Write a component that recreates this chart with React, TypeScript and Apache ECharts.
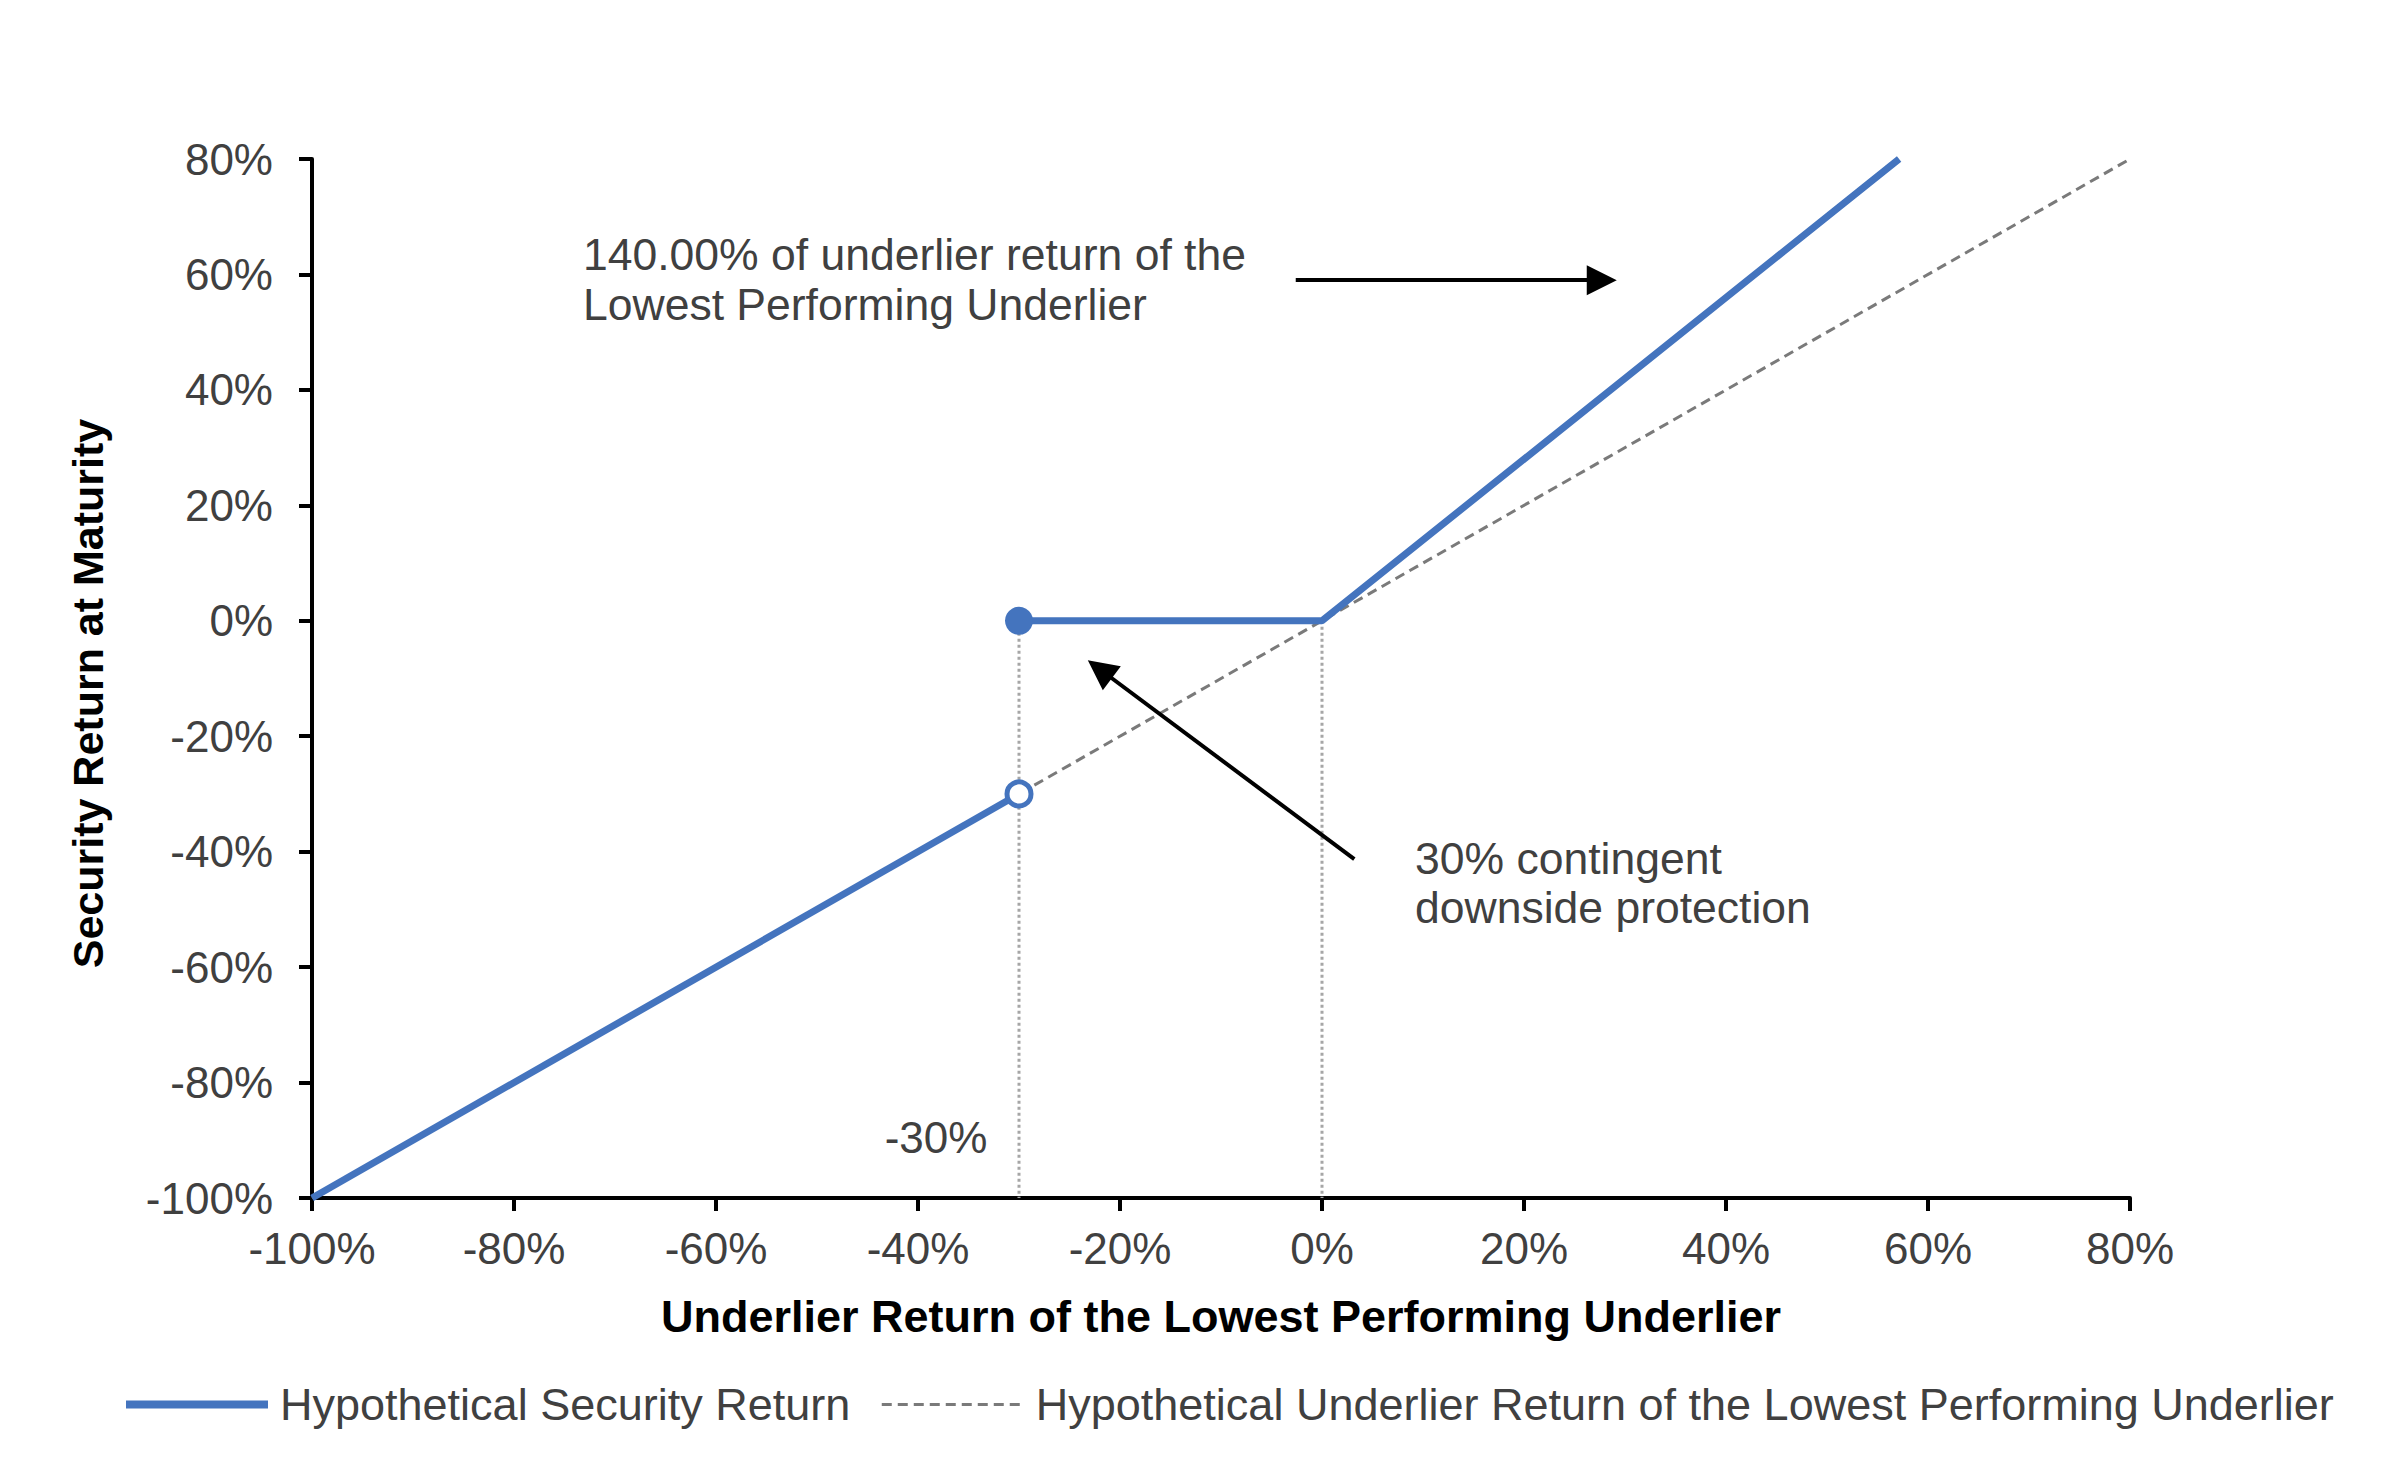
import React, { useEffect, useRef } from "react";
import * as echarts from "echarts";

// ---- data ----
const axisMin = -100;
const axisMax = 80;
const axisStep = 20;

const belowBarrierX = [-100, -30];
const belowBarrierY = [-100, -30];
const aboveBarrierX = [-30, 0, 57.14];
const aboveBarrierY = [0, 0, 80];
const underlierX = [-100, 80];
const underlierY = [-100, 80];
const barrierX = [-30];
const protectedY = [0];
const breachedY = [-30];
const guideX = [-30, 0];
const guideTopY = [0, 0];
const guideBottomY = [-100, -100];
const upsideArrowFrom = [-2.6, 59];
const upsideArrowTo = [27.7, 59];
const barrierArrowFrom = [3.2, -41.3];
const barrierArrowTo = [-22.0, -8.4];

const securityName = "Hypothetical Security Return";
const underlierName = "Hypothetical Underlier Return of the Lowest Performing Underlier";
const xTitle = "Underlier Return of the Lowest Performing Underlier";
const yTitle = "Security Return at Maturity";
const upsideNote = "140.00% of underlier return of the\nLowest Performing Underlier";
const barrierNote = "30% contingent\ndownside protection";
const barrierLabel = "-30%";

const BLUE = "#4474BE";
const FONT = "'Liberation Sans', Arial, sans-serif";

const pairs = (xs: number[], ys: number[]) => xs.map((x, i) => [x, ys[i]]);

export default function App() {
  const ref = useRef<HTMLDivElement>(null);
  useEffect(() => {
    if (!ref.current) return;
    const chart = echarts.init(ref.current, undefined, { renderer: "svg" });
    const axisCommon = {
      type: "value" as const,
      min: axisMin,
      max: axisMax,
      interval: axisStep,
      splitLine: { show: false },
      axisLine: { show: true, onZero: false, lineStyle: { color: "#000", width: 4 } },
      axisTick: { show: true, length: 13, lineStyle: { color: "#000", width: 4 } },
      axisLabel: {
        formatter: (v: number) => `${v}%`,
        color: "#404040",
        fontSize: 44,
        fontFamily: FONT,
      },
      nameLocation: "middle" as const,
      nameTextStyle: { color: "#000", fontWeight: "bold" as const, fontFamily: FONT },
    };
    const guideSeries = guideX.map((gx, i) => ({
      type: "line",
      name: `guide${i}`,
      data: [
        [gx, guideTopY[i]],
        [gx, guideBottomY[i]],
      ],
      symbol: "none",
      lineStyle: { color: "#a6a6a6", width: 3, type: [3, 3] },
      z: 1,
      silent: true,
    }));
    chart.setOption({
      animation: false,
      backgroundColor: "#fff",
      grid: { left: 312, right: 270, top: 159, bottom: 270 },
      xAxis: {
        ...axisCommon,
        axisLabel: { ...axisCommon.axisLabel, margin: 28 },
        name: xTitle,
        nameGap: 96,
        nameTextStyle: { ...axisCommon.nameTextStyle, fontSize: 45 },
      },
      yAxis: {
        ...axisCommon,
        axisLabel: { ...axisCommon.axisLabel, margin: 39 },
        name: yTitle,
        nameGap: 203,
        nameTextStyle: { ...axisCommon.nameTextStyle, fontSize: 43, padding: [0, 30, 0, 0] },
      },
      legend: {
        left: 117,
        top: 1377,
        itemWidth: 142,
        itemHeight: 10,
        itemGap: 30,
        textStyle: { fontSize: 45, color: "#404040", fontFamily: FONT, padding: [0, 0, 0, 7] },
        data: [
          { name: securityName, lineStyle: { width: 8 }, itemStyle: { opacity: 0 } },
          { name: underlierName, lineStyle: { width: 3 }, itemStyle: { opacity: 0 } },
        ],
      },
      graphic: [
        {
          type: "text",
          left: 583,
          top: 229,
          style: {
            text: upsideNote,
            fontSize: 44.5,
            lineHeight: 50,
            fill: "#404040",
            fontFamily: FONT,
          },
        },
        {
          type: "text",
          left: 1415,
          top: 834,
          style: {
            text: barrierNote,
            fontSize: 44.5,
            lineHeight: 49,
            fill: "#404040",
            fontFamily: FONT,
          },
        },
        {
          type: "text",
          x: 936,
          y: 1137,
          style: {
            text: barrierLabel,
            fontSize: 44,
            fill: "#404040",
            fontFamily: FONT,
            align: "center",
            verticalAlign: "middle",
          },
        },
      ],
      series: [
        {
          type: "line",
          name: underlierName,
          data: pairs(underlierX, underlierY),
          symbol: "none",
          lineStyle: { color: "#7a7a7a", width: 3, type: [10, 6] },
          itemStyle: { color: "#7a7a7a" },
          z: 2,
        },
        ...guideSeries,
        {
          type: "line",
          name: securityName,
          data: pairs(belowBarrierX, belowBarrierY),
          symbol: "none",
          lineStyle: { color: BLUE, width: 7 },
          itemStyle: { color: BLUE },
          z: 3,
        },
        {
          type: "line",
          name: securityName,
          data: pairs(aboveBarrierX, aboveBarrierY),
          symbol: "none",
          lineStyle: { color: BLUE, width: 7 },
          itemStyle: { color: BLUE },
          z: 3,
        },
        {
          type: "scatter",
          name: "protected",
          data: pairs(barrierX, protectedY),
          symbol: "circle",
          symbolSize: 28,
          itemStyle: { color: BLUE, opacity: 1 },
          z: 5,
        },
        {
          type: "scatter",
          name: "breached",
          data: pairs(barrierX, breachedY),
          symbol: "circle",
          symbolSize: 24,
          itemStyle: { color: "#fff", borderColor: BLUE, borderWidth: 5, opacity: 1 },
          z: 5,
        },
        {
          type: "line",
          name: "arrows",
          data: [],
          z: 6,
          markLine: {
            silent: true,
            symbol: ["none", "triangle"],
            symbolSize: [30, 30],
            label: { show: false },
            lineStyle: { color: "#000", width: 4, type: "solid" },
            data: [
              [{ coord: upsideArrowFrom }, { coord: upsideArrowTo }],
              [{ coord: barrierArrowFrom }, { coord: barrierArrowTo }],
            ],
          },
        },
      ],
    });
    return () => chart.dispose();
  }, []);
  return (
    <div
      ref={ref}
      style={{ position: "fixed", left: 0, top: 0, width: 2400, height: 1468, background: "#fff" }}
    />
  );
}
